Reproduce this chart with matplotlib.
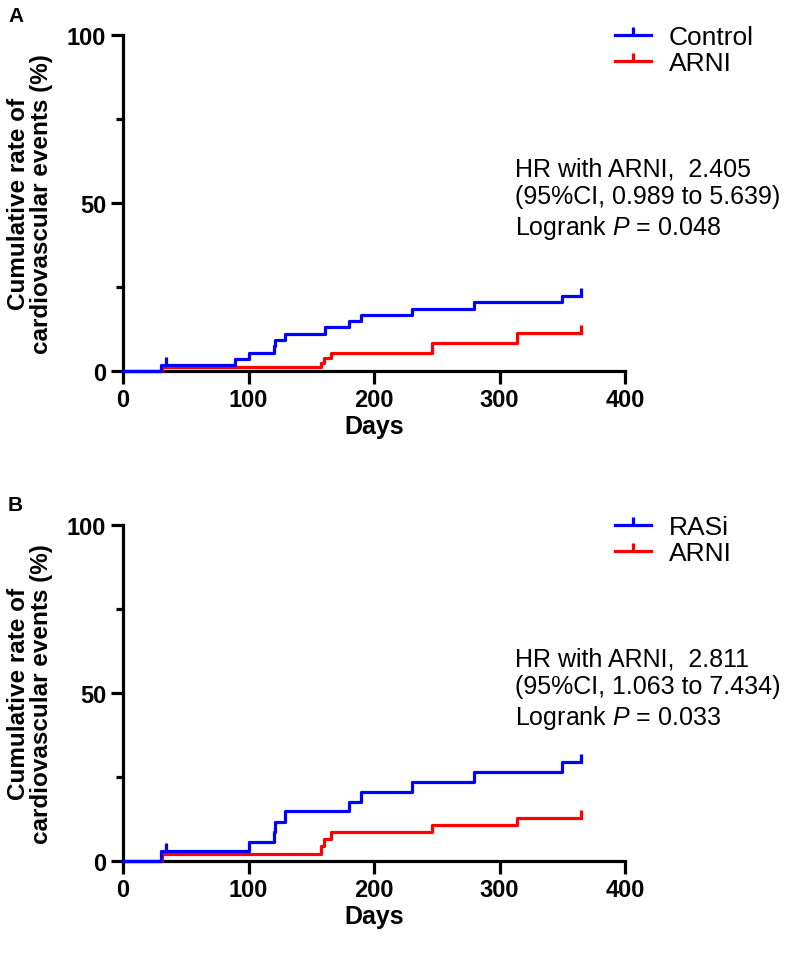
import matplotlib
matplotlib.use("Agg")
import matplotlib.pyplot as plt
from matplotlib.lines import Line2D
from matplotlib.ticker import MultipleLocator

plt.rcParams['font.family'] = ['Liberation Sans', 'DejaVu Sans']
plt.rcParams['mathtext.fontset'] = 'custom'
plt.rcParams['mathtext.rm'] = 'Liberation Sans'
plt.rcParams['mathtext.it'] = 'Liberation Sans:italic'

BLUE = '#0000ff'
RED = '#ff0000'

# panel A: Control vs ARNI
a_ctrl_days = [0, 30, 89, 100, 120, 121, 129, 161, 180, 190, 230, 280, 350, 365]
a_ctrl_rate = [0, 1.8, 3.7, 5.5, 7.4, 9.2, 11.0, 13.0, 14.9, 16.7, 18.5, 20.4, 22.3, 22.3]
a_ctrl_cens_days = [34.5, 365]
a_ctrl_cens_rate = [1.8, 22.3]
a_arni_days = [0, 31, 158, 160, 166, 246, 314, 365]
a_arni_rate = [0, 1.2, 2.4, 4.0, 5.4, 8.3, 11.2, 11.2]
a_arni_cens_days = [365]
a_arni_cens_rate = [11.2]

# panel B: RASi vs ARNI
b_rasi_days = [0, 30, 100, 120, 121.5, 129, 180, 190, 230, 280, 350, 365]
b_rasi_rate = [0, 2.9, 5.8, 8.7, 11.7, 14.8, 17.6, 20.6, 23.6, 26.5, 29.5, 29.5]
b_rasi_cens_days = [34.5, 365]
b_rasi_cens_rate = [2.9, 29.5]
b_arni_days = [0, 31, 158, 160, 166, 246, 314, 365]
b_arni_rate = [0, 2.2, 4.5, 6.6, 8.6, 10.7, 12.9, 12.9]
b_arni_cens_days = [365]
b_arni_cens_rate = [12.9]

panels = [
    dict(tag='A', labels=['Control', 'ARNI'],
         curves=[(a_ctrl_days, a_ctrl_rate, a_ctrl_cens_days, a_ctrl_cens_rate, BLUE),
                 (a_arni_days, a_arni_rate, a_arni_cens_days, a_arni_cens_rate, RED)],
         stats='HR with ARNI,  2.405\n(95%CI, 0.989 to 5.639)\nLogrank $P$ = 0.048'),
    dict(tag='B', labels=['RASi', 'ARNI'],
         curves=[(b_rasi_days, b_rasi_rate, b_rasi_cens_days, b_rasi_cens_rate, BLUE),
                 (b_arni_days, b_arni_rate, b_arni_cens_days, b_arni_cens_rate, RED)],
         stats='HR with ARNI,  2.811\n(95%CI, 1.063 to 7.434)\nLogrank $P$ = 0.033'),
]

W, H = 788, 954
fig = plt.figure(figsize=(W / 100, H / 100), dpi=100)

# axes boxes in pixels: left, top(100%), right(400 d), bottom(0%)
boxes = [(123, 36, 625, 372), (123, 526, 625, 862)]

lw = 2.3
for p, (l, t, r, b) in zip(panels, boxes):
    ax = fig.add_axes([l / W, 1 - b / H, (r - l) / W, (b - t) / H])
    handles = []
    # red first so blue sits on top where they overlap at 0
    for days, rate, cd, cr, col in p['curves'][::-1]:
        ax.step(days, rate, where='post', color=col, lw=lw, clip_on=False, zorder=3)
        ax.plot(cd, cr, ls='none', marker=2, ms=6, mew=lw, color=col, clip_on=False, zorder=3)
    for days, rate, cd, cr, col in p['curves']:
        handles.append(Line2D([], [], color=col, lw=lw, marker=2, ms=6, mew=lw))

    ax.set_xlim(0, 400)
    ax.set_ylim(0, 100)
    ax.set_xticks([0, 100, 200, 300, 400])
    ax.set_yticks([0, 50, 100])
    ax.yaxis.set_minor_locator(MultipleLocator(25))
    for s in ['top', 'right']:
        ax.spines[s].set_visible(False)
    for s in ['left', 'bottom']:
        ax.spines[s].set_linewidth(2.3)
    ax.tick_params(which='major', length=9, width=2.3, pad=3, labelsize=17)
    ax.tick_params(which='minor', length=5, width=2.3)
    for lab in ax.get_xticklabels() + ax.get_yticklabels():
        lab.set_fontweight('bold')

    ax.set_xlabel('Days', fontsize=18, fontweight='bold', va='top')
    ax.xaxis.set_label_coords(0.5, -0.128)
    ax.set_ylabel('Cumulative rate of\ncardiovascular events (%)', fontsize=17.5,
                  fontweight='bold', linespacing=1.0, va='center')
    ax.yaxis.set_label_coords(-0.185, 0.5)

    ax.legend(handles, p['labels'], loc='upper left', bbox_to_anchor=(0.98, 1.03),
              frameon=False, fontsize=19, handlelength=1.35, handletextpad=0.7,
              labelspacing=0.08, borderpad=0, borderaxespad=0)

    ax.text(0.781, 0.638, p['stats'], transform=ax.transAxes, fontsize=18,
            va='top', ha='left', linespacing=1.2)

    fig.text(8 / W, 1 - (t - 20) / H, p['tag'], fontsize=15, fontweight='bold',
             va='center', ha='left')

fig.savefig('out.png', dpi=100)
